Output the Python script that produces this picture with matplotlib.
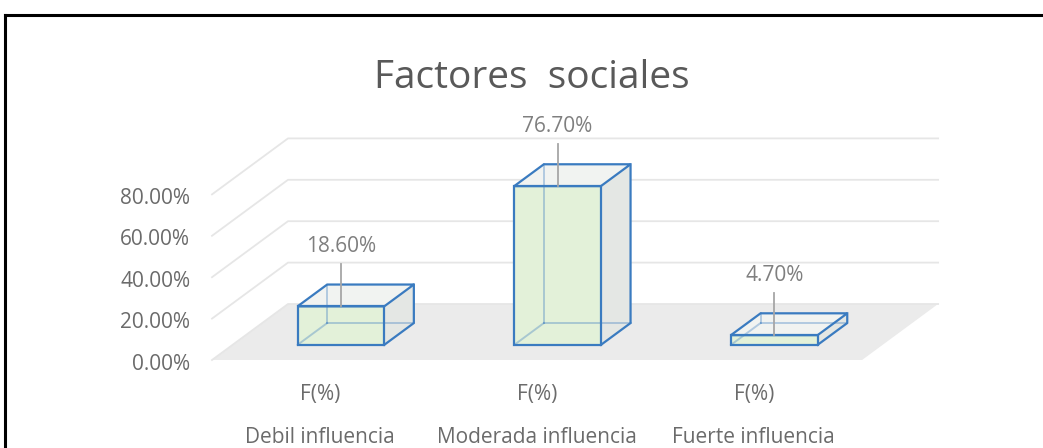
import matplotlib
matplotlib.use("Agg")
import matplotlib.pyplot as plt
from matplotlib.patches import Polygon
from matplotlib.lines import Line2D

plt.rcParams['font.family'] = ['Open Sans', 'DejaVu Sans']

# data
categories = ['Debil influencia', 'Moderada influencia', 'Fuerte influencia']
series_label = 'F(%)'
values = [18.6, 76.7, 4.7]
yticks = [0, 20, 40, 60, 80]
title = 'Factores  sociales'

W, H = 1043, 448
fig = plt.figure(figsize=(W / 100, H / 100), dpi=100)
ax = fig.add_axes([0, 0, 1, 1])
ax.axis('off')

# pixel scale of the front plane
px_cat = 216.7   # px per category
px_val = 2.07    # px per percent
x0, y0 = 212, 360
ax.set_xlim(-x0 / px_cat, (W - x0) / px_cat)
ax.set_ylim(-(H - y0) / px_val, y0 / px_val)

# oblique depth offset (depth 0 = front, 1 = back wall)
DX = 76 / px_cat
DY = 56 / px_val


def proj(x, v, d):
    return (x + DX * d, v + DY * d)


ncat = len(categories)
grid_c = '#e6e6e6'

# floor
floor = [proj(0, 0, 0), proj(ncat, 0, 0), proj(ncat, 0, 1), proj(0, 0, 1)]
ax.add_patch(Polygon(floor, closed=True, fc='#ebebeb', ec='none', zorder=1))

# gridlines: left wall + back wall
for v in yticks:
    a = proj(0, v, 0)
    b = proj(0, v, 1)
    c = proj(ncat, v, 1)
    ax.plot([a[0], b[0], c[0]], [a[1], b[1], c[1]], color=grid_c, lw=1.3, zorder=2)
    ax.text(-0.1, v - 2, f'{v:.2f}%', ha='right', va='center', fontsize=15,
            color='#6b6b6b')

# bars
bw = 0.40
d0, d1 = 0.27, 0.66
edge_c = '#3a7bc0'
for i, v in enumerate(values):
    xa = i + 0.5 - bw / 2
    xb = i + 0.5 + bw / 2
    FBL, FBR, FTR, FTL = proj(xa, 0, d0), proj(xb, 0, d0), proj(xb, v, d0), proj(xa, v, d0)
    BBL, BBR, BTR, BTL = proj(xa, 0, d1), proj(xb, 0, d1), proj(xb, v, d1), proj(xa, v, d1)
    z = 3 + i
    ax.add_patch(Polygon([FBR, BBR, BTR, FTR], fc='#e4e7e4', ec='none', zorder=z))
    ax.add_patch(Polygon([FTL, FTR, BTR, BTL], fc='#f1f3f1', ec='none', zorder=z))
    ax.add_patch(Polygon([FBL, FBR, FTR, FTL], fc='#e3f1d9', ec='none', zorder=z))
    # hidden edges seen through the faces
    for p, q in [(BBL, BBR), (BBL, BTL), (FBL, BBL)]:
        ax.plot([p[0], q[0]], [p[1], q[1]], color=edge_c, lw=1.4, alpha=0.35,
                zorder=z + 0.1)
    # visible edges
    ax.add_patch(Polygon([FBL, FBR, FTR, FTL], fill=False, ec=edge_c, lw=1.6,
                         zorder=z + 0.2))
    ax.add_patch(Polygon([FTL, BTL, BTR, FTR], fill=False, ec=edge_c, lw=1.6,
                         zorder=z + 0.2))
    ax.plot([FBR[0], BBR[0], BTR[0]], [FBR[1], BBR[1], BTR[1]], color=edge_c,
            lw=1.6, zorder=z + 0.2, solid_joinstyle='round')

    # data label with leader line
    xc, vt = proj(i + 0.5, v, d0)
    ax.plot([xc, xc], [vt, vt + 20.5], color='#a6a6a6', lw=1.3, zorder=10)
    ax.text(xc, vt + 29, f'{v:.2f}%', ha='center', va='center', fontsize=15,
            color='#7f7f7f', zorder=11)

    # category labels
    ax.text(i + 0.5, -16.5, series_label, ha='center', va='center', fontsize=15,
            color='#6b6b6b')
    ax.text(i + 0.5, -37.4, categories[i], ha='center', va='center', fontsize=15,
            color='#6b6b6b')

fig.text(532 / W, 1 - 88 / H, title, ha='center', va='baseline', fontsize=28,
         color='#595959')

# chart border (cut off at right and bottom)
bx = 5.3 / W
by = 1 - 14.7 / H
fig.add_artist(Line2D([bx, 1.01], [by, by], color='black', lw=2.2,
                      transform=fig.transFigure, solid_capstyle='projecting'))
fig.add_artist(Line2D([bx, bx], [-0.01, by], color='black', lw=2.2,
                      transform=fig.transFigure, solid_capstyle='projecting'))

fig.savefig('out.png', dpi=100)
